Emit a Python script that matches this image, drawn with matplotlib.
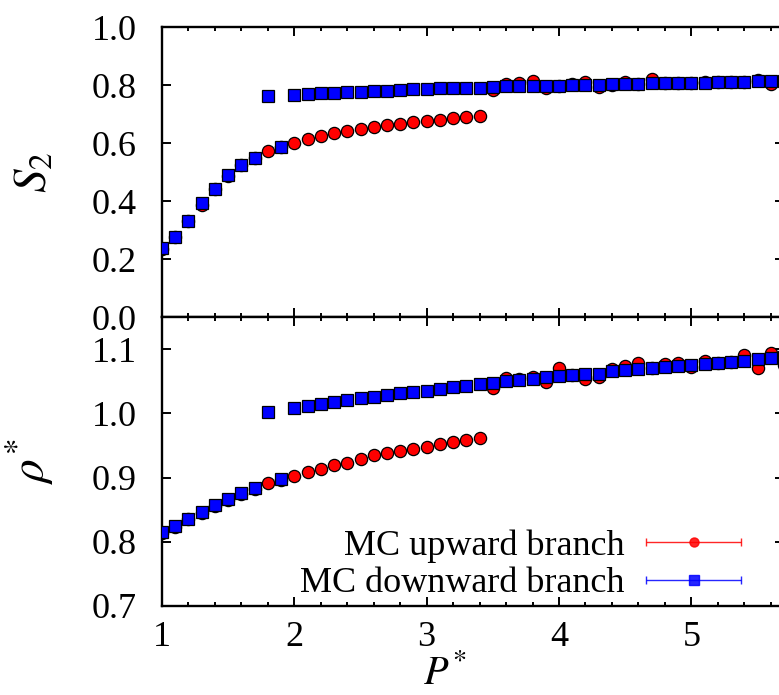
import matplotlib

matplotlib.use("Agg")
import matplotlib.pyplot as plt
from matplotlib.legend_handler import HandlerErrorbar
import numpy as np

plt.rcParams["font.family"] = ["Liberation Serif", "DejaVu Serif"]
plt.rcParams["mathtext.fontset"] = "stix"

# reduced pressure P*
pressure = [
    1.0, 1.1, 1.2, 1.3, 1.4, 1.5, 1.6, 1.7, 1.8, 1.9,
    2.0, 2.1, 2.2, 2.3, 2.4, 2.5, 2.6, 2.7, 2.8, 2.9,
    3.0, 3.1, 3.2, 3.3, 3.4, 3.5, 3.6, 3.7, 3.8, 3.9,
    4.0, 4.1, 4.2, 4.3, 4.4, 4.5, 4.6, 4.7, 4.8, 4.9,
    5.0, 5.1, 5.2, 5.3, 5.4, 5.5, 5.6, 5.7,
]

# order parameter S2
s2_up = [
    0.236, 0.275, 0.330, 0.385, 0.440, 0.487, 0.523, 0.547, 0.574, 0.586,
    0.601, 0.613, 0.623, 0.633, 0.640, 0.648, 0.656, 0.661, 0.666, 0.671,
    0.676, 0.681, 0.686, 0.690, 0.694, 0.784, 0.803, 0.807, 0.814, 0.788,
    0.797, 0.802, 0.810, 0.793, 0.801, 0.811, 0.804, 0.822, 0.806, 0.807,
    0.807, 0.809, 0.810, 0.811, 0.812, 0.818, 0.805, 0.812,
]
s2_down = [
    0.239, 0.277, 0.332, 0.394, 0.442, 0.491, 0.525, 0.549, 0.763, 0.587,
    0.767, 0.770, 0.773, 0.773, 0.777, 0.777, 0.779, 0.781, 0.783, 0.785,
    0.786, 0.788, 0.791, 0.791, 0.791, 0.794, 0.795, 0.795, 0.798, 0.795,
    0.798, 0.800, 0.801, 0.800, 0.803, 0.803, 0.802, 0.806, 0.808, 0.808,
    0.808, 0.808, 0.810, 0.811, 0.811, 0.813, 0.815, 0.815,
]

# reduced density rho*
rho_up = [
    0.814, 0.823, 0.835, 0.845, 0.856, 0.865, 0.875, 0.882, 0.891, 0.896,
    0.902, 0.908, 0.913, 0.919, 0.923, 0.929, 0.935, 0.938, 0.941, 0.945,
    0.948, 0.952, 0.955, 0.958, 0.961, 1.039, 1.055, 1.053, 1.056, 1.049,
    1.070, 1.059, 1.053, 1.057, 1.069, 1.073, 1.078, 1.070, 1.077, 1.079,
    1.072, 1.082, 1.079, 1.080, 1.091, 1.070, 1.094, 1.075,
]
rho_down = [
    0.815, 0.824, 0.836, 0.846, 0.857, 0.866, 0.876, 0.883, 1.002, 0.897,
    1.008, 1.011, 1.014, 1.018, 1.021, 1.024, 1.026, 1.028, 1.031, 1.033,
    1.034, 1.038, 1.041, 1.043, 1.046, 1.048, 1.051, 1.052, 1.054, 1.056,
    1.058, 1.059, 1.061, 1.062, 1.066, 1.068, 1.069, 1.070, 1.072, 1.074,
    1.075, 1.077, 1.079, 1.080, 1.081, 1.084, 1.086, 1.087,
]

s2_ticks = [0.0, 0.2, 0.4, 0.6, 0.8, 1.0]
rho_ticks = [0.7, 0.8, 0.9, 1.0, 1.1]
p_ticks = [1, 2, 3, 4, 5]

UP = "#ff0000"
DOWN = "#0000ff"
FS = 26
LABEL_FS = 34

W, H = 779, 695
fig = plt.figure(figsize=(W / 100, H / 100), dpi=100)
left, right = 162, 784
ax1 = fig.add_axes([left / W, 1 - 317 / H, (right - left) / W, 290 / H])
ax2 = fig.add_axes([left / W, 1 - 606 / H, (right - left) / W, 289 / H])

marker_kw = dict(linestyle="none", markeredgecolor="black", markeredgewidth=0.9)
for ax, up, down in ((ax1, s2_up, s2_down), (ax2, rho_up, rho_down)):
    ax.plot(pressure, up, marker="o", markersize=8.8, color=UP, zorder=3, **marker_kw)
    ax.plot(pressure, down, marker="s", markersize=9.2, color=DOWN, zorder=4, **marker_kw)
    ax.set_xlim(1.0, 5.7)
    ax.set_xticks(p_ticks)
    ax.set_xticks(np.arange(1.0, 5.71, 0.2), minor=True)
    ax.tick_params(which="both", direction="in", top=True, right=True,
                   labelsize=FS, width=1.4)
    ax.tick_params(which="major", length=6.5)
    ax.tick_params(which="minor", length=3.2)
    ax.tick_params(axis="y", which="minor", left=False, right=False)
    ax.tick_params(axis="y", pad=18)
    ax.tick_params(axis="x", pad=11)
    for spine in ax.spines.values():
        spine.set_linewidth(1.7)

ax1.set_ylim(0.0, 1.0)
ax1.set_yticks(s2_ticks, [f"{t:.1f}" for t in s2_ticks])
ax1.tick_params(axis="x", labelbottom=False)
ax2.set_ylim(0.7, 1.15)
ax2.set_yticks(rho_ticks, [f"{t:.1f}" for t in rho_ticks])

ax1.set_ylabel(r"$S_2$", fontsize=LABEL_FS)
ax1.yaxis.set_label_coords(-0.17, 0.5)
ax2.set_ylabel(r"$\rho^{\!*}$", fontsize=LABEL_FS)
ax2.yaxis.set_label_coords(-0.17, 0.5)
ax2.set_xlabel(r"$P^{\!*}$", fontsize=29)
ax2.xaxis.set_label_coords(0.455, -0.17)

# legend proxies, drawn like gnuplot's errorbar key samples
proxy_up = ax2.errorbar([np.nan], [np.nan], xerr=[1], fmt="o", color=UP, markersize=6.5,
                        elinewidth=1.0, capsize=3, alpha=0.85)
proxy_down = ax2.errorbar([np.nan], [np.nan], xerr=[1], fmt="s", color=DOWN, markersize=6.5,
                          elinewidth=1.0, capsize=3, alpha=0.85)
ax2.legend(
    [proxy_up, proxy_down],
    ["MC upward branch", "MC downward branch"],
    handler_map={type(proxy_up): HandlerErrorbar(xerr_size=1.31)},
    loc="lower right",
    bbox_to_anchor=((741 - left) / (right - left), 0.02),
    frameon=False,
    fontsize=FS,
    markerfirst=False,
    handlelength=2.62,
    handletextpad=0.6,
    labelspacing=0.12,
    borderpad=0,
    borderaxespad=0,
    numpoints=1,
)

fig.savefig("out.png", dpi=100)
